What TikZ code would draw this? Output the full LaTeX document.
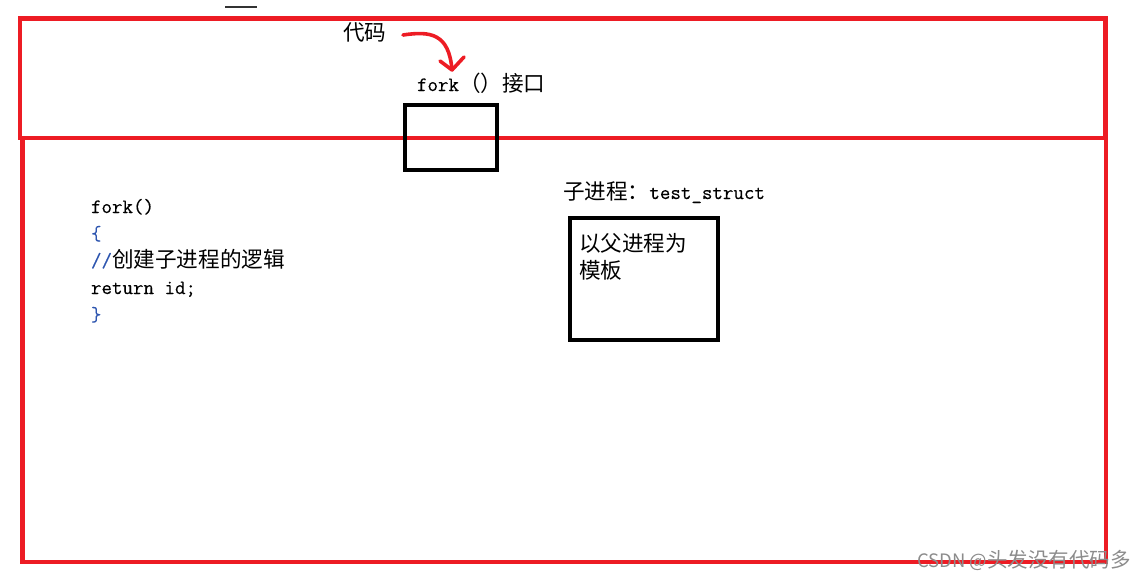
\documentclass[tikz,border=0pt]{standalone}
\usepackage{fontspec}
\newfontfamily\cjk{Noto Sans CJK SC}
\newfontfamily\mono[FakeBold=0.3]{Latin Modern Mono}
\usetikzlibrary{arrows.meta}
\definecolor{pred}{RGB}{237,28,36}
\definecolor{codeblue}{RGB}{45,85,175}
\definecolor{wm}{RGB}{140,140,140}
\newcommand\zh[1]{{\fontsize{21.6}{25}\cjk #1}}
\newcommand\mo[1]{{\fontsize{20.4}{25}\mono #1}}
\begin{document}
\begin{tikzpicture}[x=1pt,y=-1pt,
  redbox/.style={draw=pred,line width=4.5pt},
  blackbox/.style={draw=black,line width=4.6pt},
  txt/.style={anchor=base west,inner sep=0pt,outer sep=0pt,text=black},
  redarrow/.style={draw=pred,line width=3.6pt,line cap=round,line join=round},
]
\useasboundingbox (0,0) rectangle (1142,579);
% small mark at top
\draw[black!80,line width=1.5pt] (225,7) -- (257,7);
% red frames
\draw[redbox] (22.5,138) rectangle (1106,562);
\draw[redbox] (20,18.5) rectangle (1105.5,138);
% interface box
\draw[blackbox] (405,105) rectangle (497,170);
% child box
\draw[blackbox] (570,218) rectangle (718,340);
% texts
\node[txt] (code) at (343,40) {\zh{代码}};
\node[txt] (fork) at (417,91) {\mo{fork}\zh{（）接口}};
\node[txt] (l1) at (91,213) {\mo{fork()}};
\node[txt] (l2) at (91,240) {\mo{\textcolor{codeblue}{\{}}};
\node[txt] (l3) at (91,267) {\mo{\textcolor{codeblue}{//}}\zh{创建子进程的逻辑}};
\node[txt] (l4) at (91,294) {\mo{return id;}};
\node[txt] (l5) at (91,321) {\mo{\textcolor{codeblue}{\}}}};
\node[txt] (child) at (563,199) {\zh{子进程：}\mo{test\_struct}};
\node[txt] (t1) at (579,251) {\zh{以父进程为}};
\node[txt] (t2) at (579,278) {\zh{模板}};
\node[txt,text=wm] (wmk) at (917,567) {{\fontsize{18.5}{20}\cjk CSDN @}{\fontsize{20.5}{22}\cjk 头发没有代码多}};
% arrow from code label to fork interface
\coordinate (aS) at (403,35);
\coordinate (aE) at (452,70);
\draw[redarrow] (aS) .. controls (430,31) and (449,33) .. (aE);
\draw[redarrow] (440,61) -- (aE) -- (464,57);
\end{tikzpicture}
\end{document}
